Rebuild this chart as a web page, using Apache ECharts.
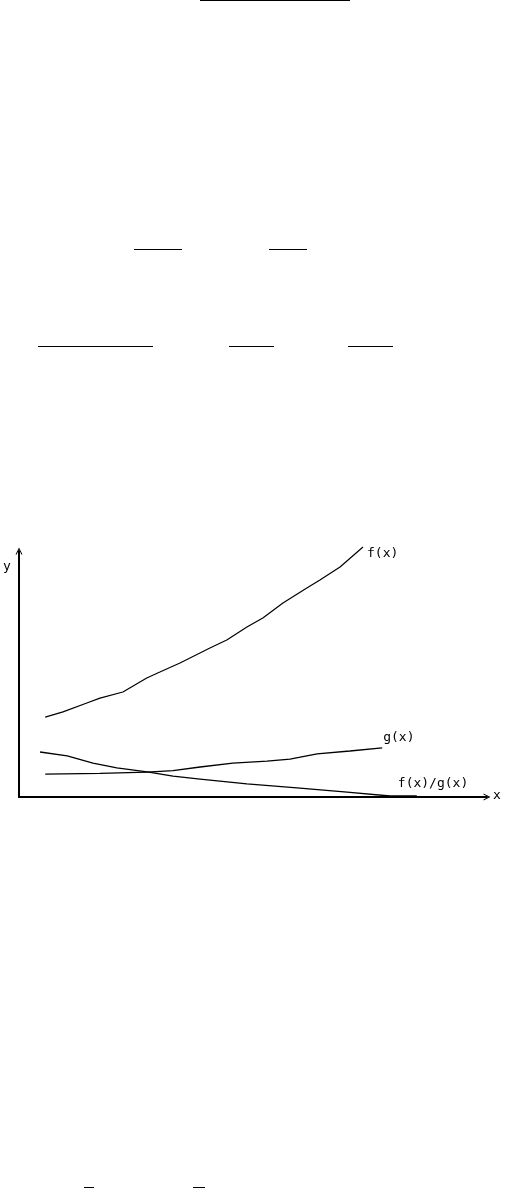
<!DOCTYPE html>
<html>
<head>
<meta charset="utf-8">
<style>
html,body{margin:0;padding:0;background:#fff;}
#c{width:505px;height:1188px;}
</style>
<script src="https://cdn.jsdelivr.net/npm/echarts@6/dist/echarts.min.js"></script>
</head>
<body>
<div id="c"></div>
<script>
// curve f(x)
const fX = [0.56,0.94,1.45,1.73,2.22,2.73,3.01,3.44,4.08,4.44,4.87,5.21,5.64,6.15,6.43,6.86,7.35];
const fY = [3.25,3.46,3.82,4.02,4.27,4.84,5.08,5.45,6.06,6.38,6.91,7.28,7.89,8.50,8.82,9.35,10.16];
// curve g(x)
const gX = [0.56,1.73,2.74,3.29,3.87,4.57,5.30,5.79,6.37,7.07,7.76];
const gY = [0.93,0.96,1.01,1.07,1.22,1.38,1.46,1.54,1.75,1.87,2.00];
// curve f(x)/g(x)
const qX = [0.45,1.03,1.58,2.09,2.74,3.29,3.87,4.87,5.94,7.01,7.93,8.50];
const qY = [1.83,1.67,1.38,1.18,1.02,0.85,0.73,0.53,0.37,0.20,0.04,0.04];
const seriesNames = ['f(x)', 'g(x)', 'f(x)/g(x)'];
const axisNames = ['x', 'y'];

const zip = (a, b) => a.map((v, i) => [v, b[i]]);
const FONT = '"DejaVu Sans Mono", monospace';
const chevron = 'path://M0,10 L5,0 L10,10 L8.4,10 L5,3 L1.6,10 Z';

const chart = echarts.init(document.getElementById('c'), null, {renderer: 'canvas'});
chart.setOption({
  animation: false,
  backgroundColor: '#ffffff',
  grid: {left: 19, top: 551, width: 468, height: 246, containLabel: false},
  xAxis: {
    type: 'value', min: 0, max: 10,
    axisLine: {show: true, lineStyle: {color: '#000', width: 2}, symbol: ['none', chevron], symbolSize: [11, 7], symbolOffset: [0, 0]},
    axisTick: {show: false}, axisLabel: {show: false}, splitLine: {show: false}
  },
  yAxis: {
    type: 'value', min: 0, max: 10,
    axisLine: {show: true, lineStyle: {color: '#000', width: 2}, symbol: ['none', chevron], symbolSize: [11, 7], symbolOffset: [0, 0]},
    axisTick: {show: false}, axisLabel: {show: false}, splitLine: {show: false}
  },
  series: [
    {
      name: seriesNames[0], type: 'line', data: zip(fX, fY), showSymbol: false, clip: false,
      lineStyle: {color: '#000', width: 1.2},
      endLabel: {show: true, formatter: seriesNames[0], color: '#000', fontFamily: FONT, fontSize: 13, offset: [-4, 7]}
    },
    {
      name: seriesNames[1], type: 'line', data: zip(gX, gY), showSymbol: false, clip: false,
      lineStyle: {color: '#000', width: 1.3},
      endLabel: {show: true, formatter: seriesNames[1], color: '#000', fontFamily: FONT, fontSize: 13, offset: [-7, -10]}
    },
    {
      name: seriesNames[2], type: 'line', data: zip(qX, qY), showSymbol: false, clip: false,
      lineStyle: {color: '#000', width: 1.3},
      endLabel: {show: true, formatter: seriesNames[2], color: '#000', fontFamily: FONT, fontSize: 13, offset: [-27, -12]}
    }
  ],
  graphic: [
    {type: 'text', left: 3, top: 560, style: {text: axisNames[1], font: '13px ' + FONT, fill: '#000'}},
    {type: 'text', left: 493, top: 789, style: {text: axisNames[0], font: '13px ' + FONT, fill: '#000'}},
    {type: 'line', shape: {x1: 200, y1: 0.5, x2: 350, y2: 0.5}, style: {stroke: '#000', lineWidth: 1}},
    {type: 'line', shape: {x1: 134, y1: 249.5, x2: 182, y2: 249.5}, style: {stroke: '#000', lineWidth: 1}},
    {type: 'line', shape: {x1: 269, y1: 249.5, x2: 307, y2: 249.5}, style: {stroke: '#000', lineWidth: 1}},
    {type: 'line', shape: {x1: 38, y1: 346.5, x2: 153, y2: 346.5}, style: {stroke: '#000', lineWidth: 1}},
    {type: 'line', shape: {x1: 229, y1: 346.5, x2: 274, y2: 346.5}, style: {stroke: '#000', lineWidth: 1}},
    {type: 'line', shape: {x1: 348, y1: 346.5, x2: 393, y2: 346.5}, style: {stroke: '#000', lineWidth: 1}},
    {type: 'line', shape: {x1: 84, y1: 1187.5, x2: 94, y2: 1187.5}, style: {stroke: '#000', lineWidth: 1}},
    {type: 'line', shape: {x1: 193, y1: 1187.5, x2: 205, y2: 1187.5}, style: {stroke: '#000', lineWidth: 1}}
  ]
});
</script>
</body>
</html>
